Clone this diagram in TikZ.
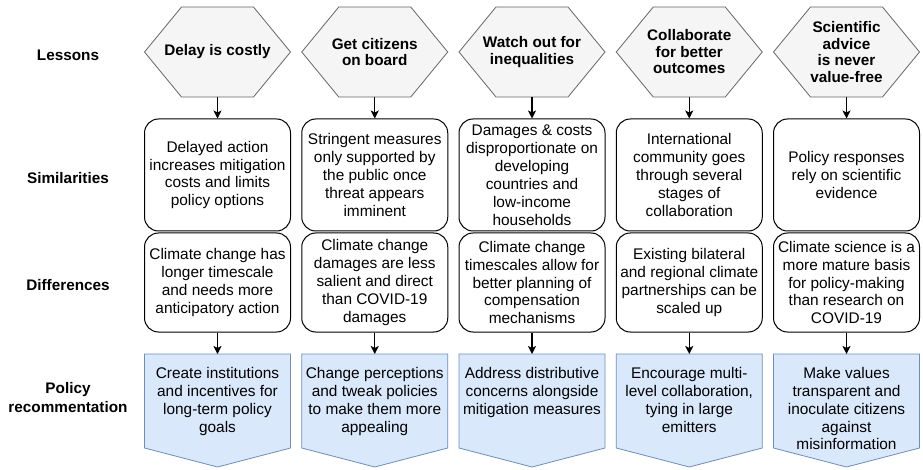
\documentclass[tikz,border=0pt]{standalone}
\usepackage{fontspec}
\setmainfont{Liberation Sans}
\usetikzlibrary{arrows.meta}
\definecolor{hexfill}{HTML}{F5F5F5}
\definecolor{hexline}{HTML}{666666}
\definecolor{polfill}{HTML}{DAE8FC}
\definecolor{polline}{HTML}{6C8EBF}
\tikzset{
  rowlabel/.style={font=\bfseries\fontsize{15.3}{19}\selectfont, align=center, inner sep=0pt},
  hextext/.style={font=\bfseries\fontsize{15.3}{16.5}\selectfont, align=center, inner sep=0pt},
  hexshape/.style={draw=hexline, fill=hexfill, line width=0.8pt, line join=miter},
  polshape/.style={draw=polline, fill=polfill, line width=0.8pt},
  simbox/.style={draw=black, line width=1pt, rounded corners=14pt, minimum width=146pt, minimum height=112pt, align=center, inner sep=0pt, font=\fontsize{15.4}{17.9}\selectfont},
  diffbox/.style={simbox, minimum height=99pt},
  poltext/.style={align=center, inner sep=0pt, anchor=north, font=\fontsize{15.4}{17.9}\selectfont},
  flow/.style={draw=black, line width=1.1pt, -{Stealth[length=8pt,width=8pt,inset=2pt]}}
}
\begin{document}
\begin{tikzpicture}[x=1pt,y=-1pt]
\useasboundingbox (0,0) rectangle (923,470);
\fill[white] (0,0) rectangle (923,470);

% row labels
\node[rowlabel] (lLes) at (68,55) {Lessons};
\node[rowlabel] (lSim) at (68,178) {Similarities};
\node[rowlabel] (lDif) at (68,285) {Differences};
\node[rowlabel] (lPol) at (68,398) {Policy\\recommentation};

% hexagons and pentagons
\foreach \c/\i in {217.5/1,374.75/2,532/3,689.25/4,846.5/5}{
  \draw[hexshape] (\c-73,52) -- (\c-36,7) -- (\c+36,7) -- (\c+73,52) -- (\c+36,97) -- (\c-36,97) -- cycle;
  \coordinate (hb\i) at (\c,97);
  \draw[polshape] (\c-73,354) -- (\c+73,354) -- (\c+73,448) -- (\c,467) -- (\c-73,448) -- cycle;
  \coordinate (pt\i) at (\c,354);
}

\node[hextext] (h1) at (217.5,52) {Delay is costly};
\node[hextext] (h2) at (374.75,52) {Get citizens\\on board};
\node[hextext] (h3) at (532,52) {Watch out for\\inequalities};
\node[hextext] (h4) at (689.25,52) {Collaborate\\for better\\outcomes};
\node[hextext] (h5) at (846.5,52) {Scientific\\advice\\is never\\value-free};

\node[simbox] (s1) at (217.5,175) {Delayed action\\increases mitigation\\costs and limits\\policy options};
\node[simbox] (s2) at (374.75,175) {Stringent measures\\only supported by\\the public once\\threat appears\\imminent};
\node[simbox] (s3) at (532,175) {Damages \& costs\\disproportionate on\\developing\\countries and\\low-income\\households};
\node[simbox] (s4) at (689.25,175) {International\\community goes\\through several\\stages of\\collaboration};
\node[simbox] (s5) at (846.5,175) {Policy responses\\rely on scientific\\evidence};

\node[diffbox] (d1) at (217.5,282.5) {Climate change has\\longer timescale\\and needs more\\anticipatory action};
\node[diffbox] (d2) at (374.75,282.5) {Climate change\\damages are less\\salient and direct\\than COVID-19\\damages};
\node[diffbox] (d3) at (532,282.5) {Climate change\\timescales allow for\\better planning of\\compensation\\mechanisms};
\node[diffbox] (d4) at (689.25,282.5) {Existing bilateral\\and regional climate\\partnerships can be\\scaled up};
\node[diffbox] (d5) at (846.5,282.5) {Climate science is a\\more mature basis\\for policy-making\\than research on\\COVID-19};

\node[poltext] (p1) at (217.5,367) {Create institutions\\and incentives for\\long-term policy\\goals};
\node[poltext] (p2) at (374.75,367) {Change perceptions\\and tweak policies\\to make them more\\appealing};
\node[poltext] (p3) at (532,367) {Address distributive\\concerns alongside\\mitigation measures};
\node[poltext] (p4) at (689.25,367) {Encourage multi-\\level collaboration,\\tying in large\\emitters};
\node[poltext] (p5) at (846.5,367) {Make values\\transparent and\\inoculate citizens\\against\\misinformation};

\foreach \i in {1,...,5}{
  \draw[flow] (hb\i) -- (s\i.north);
  \draw[flow] (d\i.south) -- (pt\i);
}
\end{tikzpicture}
\end{document}
